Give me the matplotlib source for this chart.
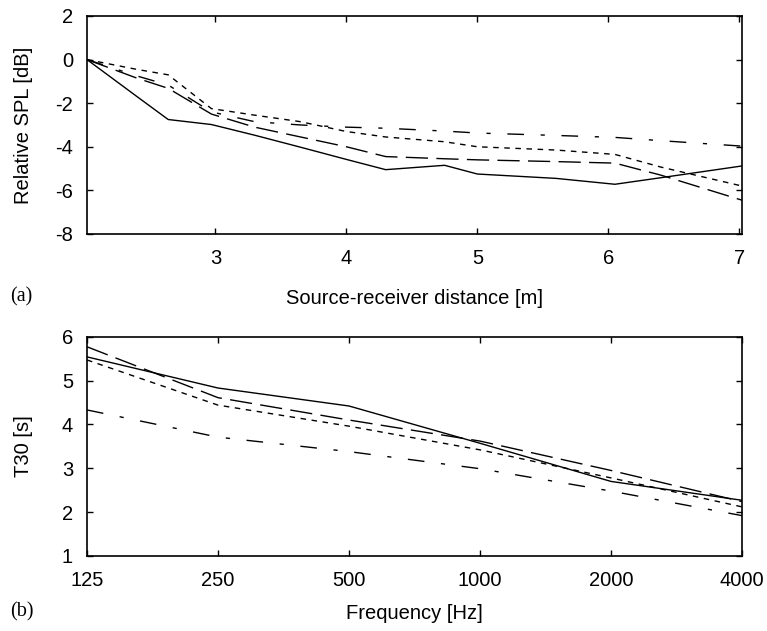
#!/usr/bin/env python3

# numpy
import numpy as np
# plotting
import matplotlib
matplotlib.use("Agg")
import matplotlib.pyplot as plt
from matplotlib.ticker import FixedLocator, FixedFormatter, NullLocator

## OUTPUT
OUTPUT = "out.png"

plt.rcParams['font.family'] = ['Liberation Sans', 'DejaVu Sans']
plt.rcParams['axes.unicode_minus'] = False

## DATA (a): relative SPL against source-receiver distance
distance = [2.02, 2.4, 2.64, 2.97, 3.3, 3.65, 4.0, 4.3, 4.75, 5.0, 5.6, 6.05, 6.4, 7.02]
spl_solid = [0.0, -1.69, -2.75, -2.98, -3.47, -4.02, -4.58, -5.05, -4.85, -5.25, -5.45, -5.72, -5.42, -4.88]
spl_longdash = [0.0, -0.85, -1.32, -2.5, -3.1, -3.55, -4.0, -4.45, -4.55, -4.6, -4.68, -4.75, -5.3, -6.45]
spl_dotted = [0.0, -0.45, -0.7, -2.25, -2.55, -2.85, -3.3, -3.55, -3.77, -4.0, -4.15, -4.35, -4.93, -5.8]
spl_dashdot = [0.0, -0.75, -1.17, -2.4, -2.85, -3.0, -3.1, -3.15, -3.28, -3.37, -3.48, -3.57, -3.72, -3.97]
dist_ticks = [3, 4, 5, 6, 7]
spl_ticks = [2, 0, -2, -4, -6, -8]

## DATA (b): T30 against octave band
freq = [125, 250, 500, 1000, 2000, 4000]
t30_solid = [5.54, 4.83, 4.42, 3.57, 2.7, 2.27]
t30_longdash = [5.77, 4.61, 4.1, 3.62, 2.95, 2.24]
t30_dotted = [5.47, 4.44, 3.96, 3.42, 2.78, 2.12]
t30_dashdot = [4.33, 3.71, 3.38, 2.99, 2.48, 1.92]
freq_labels = ["125", "250", "500", "1000", "2000", "4000"]
t30_ticks = [1, 2, 3, 4, 5, 6]

FS = 14.5
STYLES = [
    dict(linestyle='-'),
    dict(linestyle=(0, (16, 6))),
    dict(linestyle=(0, (4, 4))),
    dict(linestyle=(0, (12, 12, 3, 12))),
]


def style_axes(ax):
    for s in ax.spines.values():
        s.set_linewidth(1.2)
    ax.tick_params(which='major', direction='in', top=True, right=True,
                   length=4.5, width=1.0, labelsize=FS)
    ax.tick_params(axis='x', pad=11)
    ax.tick_params(axis='y', pad=10)
    # y label right edge sits ~33 px from the figure edge
    ax.yaxis.set_label_coords(-0.082, 0.5)


fig = plt.figure(figsize=(7.67, 6.31), dpi=100)

# (a)
ax1 = fig.add_axes([0.1134, 0.6292, 0.854, 0.3455])
for y, st in zip([spl_solid, spl_longdash, spl_dotted, spl_dashdot], STYLES):
    ax1.plot(distance, y, color='black', lw=1.0, **st)
ax1.set_xlim(2.02, 7.02)
ax1.set_ylim(-8, 2)
ax1.set_xticks(dist_ticks)
ax1.set_yticks(spl_ticks)
ax1.set_xlabel("Source-receiver distance [m]", fontsize=FS, labelpad=15)
ax1.set_ylabel("Relative SPL [dB]", fontsize=FS)
style_axes(ax1)

# (b)
ax2 = fig.add_axes([0.1134, 0.1189, 0.854, 0.3475])
for y, st in zip([t30_solid, t30_longdash, t30_dotted, t30_dashdot], STYLES):
    ax2.plot(freq, y, color='black', lw=1.0, **st)
ax2.set_xscale('log', base=2)
ax2.set_xlim(125, 4000)
ax2.set_ylim(1, 6)
ax2.xaxis.set_major_locator(FixedLocator(freq))
ax2.xaxis.set_major_formatter(FixedFormatter(freq_labels))
ax2.xaxis.set_minor_locator(NullLocator())
ax2.set_yticks(t30_ticks)
ax2.set_xlabel("Frequency [Hz]", fontsize=FS, labelpad=10)
ax2.set_ylabel("T30 [s]", fontsize=FS)
style_axes(ax2)

fig.text(10 / 767, 1 - 297 / 631, "(a)", family='Liberation Serif', fontsize=FS,
         ha='left', va='center')
fig.text(10 / 767, 1 - 612 / 631, "(b)", family='Liberation Serif', fontsize=FS,
         ha='left', va='center')

fig.savefig(OUTPUT, dpi=100)
